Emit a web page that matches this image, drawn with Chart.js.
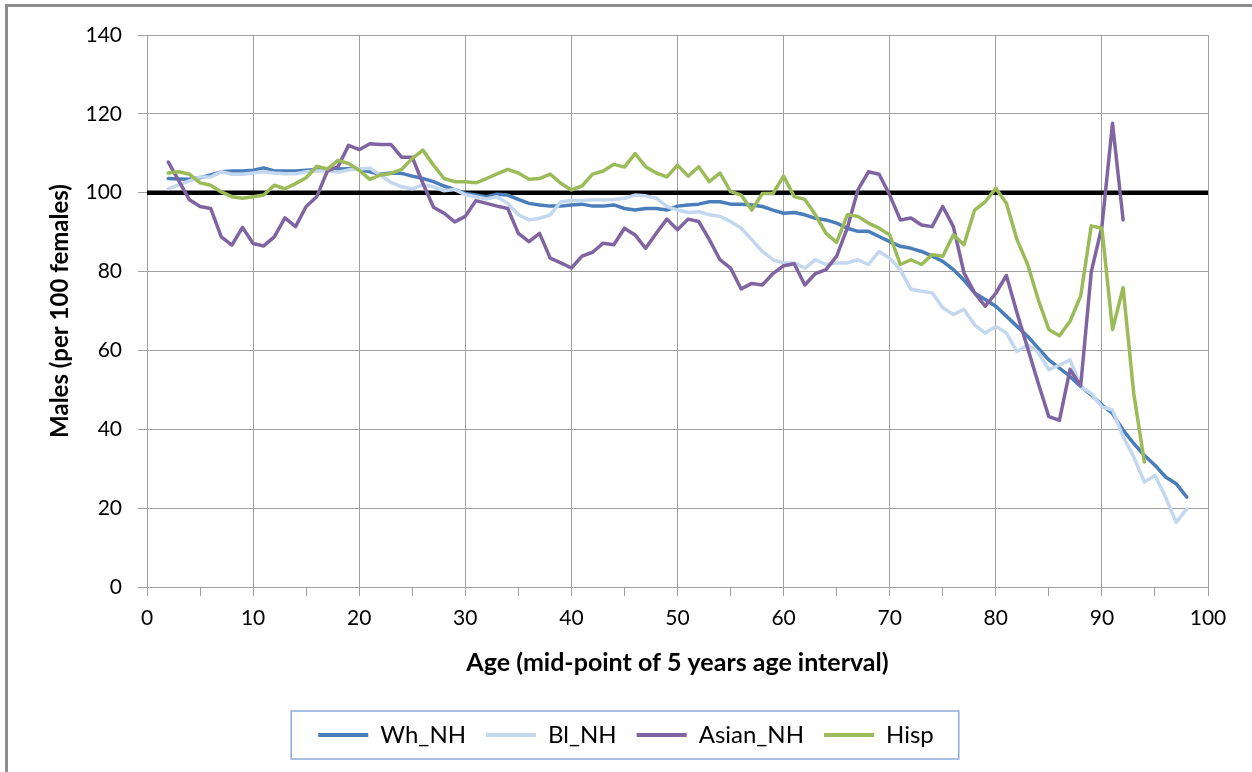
<!DOCTYPE html>
<html>
<head>
<meta charset="utf-8">
<script src="https://cdn.jsdelivr.net/npm/chart.js@4.4.1/dist/chart.umd.min.js"></script>
<style>
  html, body { margin: 0; padding: 0; background: #fff; }
  canvas { display: block; }
</style>
</head>
<body>
<canvas id="theChart" width="1252" height="772"></canvas>
<script>
let chart = document.getElementById("theChart").getContext("2d");

const ages = [2,3,4,5,6,7,8,9,10,11,12,13,14,15,16,17,18,19,20,21,22,23,24,25,26,27,28,29,30,
  31,32,33,34,35,36,37,38,39,40,41,42,43,44,45,46,47,48,49,50,51,52,53,54,55,56,57,58,59,60,
  61,62,63,64,65,66,67,68,69,70,71,72,73,74,75,76,77,78,79,80,81,82,83,84,85,86,87,88,89,90,
  91,92,93,94,95,96,97,98];

const whNH = [103.6,103.5,103.4,103.8,104.5,105.3,105.5,105.5,105.7,106.3,105.5,105.5,105.5,105.7,105.9,106.1,106.0,106.1,105.9,105.3,
  104.7,105.0,104.9,104.2,103.6,102.8,101.7,100.8,99.8,99.4,99.0,99.6,99.4,98.3,97.3,96.9,96.6,96.6,96.9,97.1,
  96.6,96.6,96.9,96.0,95.6,96.0,96.0,95.6,96.6,96.9,97.1,97.7,97.7,97.1,97.1,96.9,96.5,95.6,94.8,95.0,
  94.4,93.5,93.1,92.3,91.0,90.2,90.2,88.9,87.6,86.4,85.9,85.1,83.9,82.6,80.5,77.8,74.6,72.9,71.2,68.7,
  66.1,63.6,60.6,57.6,55.5,53.4,50.8,48.7,46.2,44.0,39.8,36.4,33.4,30.9,27.9,26.2,22.8];

const blNH = [101.0,102.0,103.0,104.0,104.0,105.3,104.7,104.7,105.0,105.3,105.0,104.8,104.8,105.3,105.5,105.6,105.2,105.8,106.0,106.2,
  104.5,102.6,101.5,101.0,102.0,101.5,100.5,100.8,99.5,99.0,98.4,99.0,97.3,94.4,93.1,93.5,94.4,97.7,98.0,98.0,
  98.2,98.2,98.3,98.6,99.4,99.2,98.6,96.5,95.6,95.0,95.2,94.4,94.0,92.7,91.0,88.1,85.1,83.0,82.2,82.2,
  80.9,83.0,81.8,82.2,82.2,83.0,81.8,85.1,83.4,80.5,75.5,75.0,74.6,70.8,69.1,70.4,66.5,64.4,66.1,64.4,
  59.7,61.4,59.5,55.1,56.3,57.6,50.8,49.1,45.7,44.9,38.1,33.0,26.6,28.3,22.8,16.4,19.8];

const asianNH = [107.8,103.0,98.2,96.5,96.0,88.8,86.7,91.2,87.1,86.5,88.8,93.6,91.4,96.5,99.0,105.5,106.6,112.0,110.9,112.4,
  112.2,112.2,109.0,109.0,102.4,96.3,94.8,92.6,94.0,98.0,97.3,96.6,96.0,89.7,87.6,89.7,83.4,82.2,80.9,83.9,
  84.9,87.2,86.8,91.0,89.3,85.9,89.7,93.3,90.6,93.3,92.7,88.1,83.0,80.9,75.6,77.0,76.6,79.5,81.5,82.0,
  76.6,79.5,80.5,83.9,91.0,100.7,105.3,104.7,99.4,93.1,93.6,91.8,91.4,96.5,91.4,79.7,74.6,71.2,74.5,79.0,
  69.5,60.6,51.7,43.2,42.3,55.2,51.0,80.0,91.4,117.6,93.1];

const hisp = [105.0,105.3,104.7,102.5,101.9,100.2,99.0,98.6,99.0,99.4,101.9,101.0,102.3,103.8,106.7,106.0,108.2,107.4,105.7,103.4,
  104.5,104.9,105.9,108.7,110.8,107.0,103.6,102.8,102.8,102.5,103.6,104.8,105.9,105.0,103.4,103.6,104.7,102.4,100.7,101.7,
  104.7,105.5,107.2,106.5,109.9,106.6,105.0,104.0,107.0,104.2,106.6,102.8,105.0,100.3,99.4,95.6,99.8,99.8,104.2,99.0,
  98.3,94.4,89.7,87.4,94.4,94.0,92.3,91.0,89.3,81.8,83.0,81.8,84.3,83.9,89.3,86.8,95.6,97.7,101.1,97.3,
  88.1,81.8,72.9,65.3,63.7,67.4,73.8,91.6,91.0,65.3,75.9,49.1,31.7];

const parityX = [0, 100];
const parityY = [100, 100];

const yTicks = [0, 20, 40, 60, 80, 100, 120, 140];

function toPoints(xs, ys) {
  return ys.map((y, i) => ({ x: xs[i], y: y }));
}

const fontName = "Lato, 'Open Sans', sans-serif";
const gridGray = "#a0a0a0";

// outer frame and legend frame, like the spreadsheet export
const framePlugin = {
  id: "frames",
  beforeDraw(c) {
    const ctx = c.ctx;
    ctx.save();
    ctx.fillStyle = "#fff";
    ctx.fillRect(0, 0, c.width, c.height);
    ctx.strokeStyle = "#8c8c8c";
    ctx.lineWidth = 3;
    ctx.strokeRect(6.5, 5.5, c.width + 20, c.height + 20);
    ctx.restore();
  },
  afterDraw(c) {
    const boxes = c.legend.legendHitBoxes;
    if (!boxes || !boxes.length) return;
    let left = Math.min(...boxes.map(b => b.left));
    let right = Math.max(...boxes.map(b => b.left + b.width));
    let top = Math.min(...boxes.map(b => b.top));
    let bottom = Math.max(...boxes.map(b => b.top + b.height));
    const ctx = c.ctx;
    ctx.save();
    ctx.strokeStyle = "#8eaadb";
    ctx.lineWidth = 1.5;
    ctx.strokeRect(left - 27, top - 12, right - left + 52, bottom - top + 24);
    ctx.restore();
  }
};

let currentChart = new Chart(chart, {
  type: "scatter",
  data: {
    datasets: [
      {
        label: "",
        data: toPoints(parityX, parityY),
        borderColor: "#000",
        backgroundColor: "#000",
        borderWidth: 4.5,
        showLine: true,
        pointRadius: 0,
        order: 5
      },
      {
        label: "Wh_NH",
        data: toPoints(ages, whNH),
        borderColor: "#4a7ebb",
        backgroundColor: "#4a7ebb",
        borderWidth: 3.5,
        showLine: true,
        pointRadius: 0,
        order: 4
      },
      {
        label: "Bl_NH",
        data: toPoints(ages, blNH),
        borderColor: "#c3d7ef",
        backgroundColor: "#c3d7ef",
        borderWidth: 3.5,
        showLine: true,
        pointRadius: 0,
        order: 3
      },
      {
        label: "Asian_NH",
        data: toPoints(ages, asianNH),
        borderColor: "#8064a2",
        backgroundColor: "#8064a2",
        borderWidth: 3.5,
        showLine: true,
        pointRadius: 0,
        order: 2
      },
      {
        label: "Hisp",
        data: toPoints(ages, hisp),
        borderColor: "#9bbb59",
        backgroundColor: "#9bbb59",
        borderWidth: 3.5,
        showLine: true,
        pointRadius: 0,
        order: 1
      }
    ]
  },
  options: {
    responsive: false,
    animation: false,
    devicePixelRatio: 1,
    layout: {
      padding: { left: 0, top: 35, right: 0, bottom: 15 }
    },
    elements: { line: { tension: 0, borderJoinStyle: "round", borderCapStyle: "round" } },
    plugins: {
      tooltip: { enabled: false },
      legend: {
        position: "bottom",
        labels: {
          font: { family: fontName, size: 24 },
          color: "#000",
          boxWidth: 50,
          boxHeight: 4,
          padding: 20,
          generateLabels: (c) => c.data.datasets
            .map((ds, i) => ({
              text: ds.label,
              fillStyle: ds.borderColor,
              strokeStyle: ds.borderColor,
              lineWidth: 0,
              hidden: false,
              datasetIndex: i,
              fontColor: "#000"
            }))
            .filter(l => l.text)
        }
      }
    },
    scales: {
      x: {
        type: "linear",
        min: 0,
        max: 100,
        afterFit: (s) => { s.height = 116; },
        ticks: {
          stepSize: 5,
          padding: 10,
          maxRotation: 0,
          autoSkip: false,
          color: "#000",
          font: { family: fontName, size: 21 },
          callback: (v) => (v % 10 === 0 ? v : "")
        },
        grid: {
          color: (ctx) => (ctx.tick && ctx.tick.value % 10 === 0 ? gridGray : "rgba(0,0,0,0)"),
          tickColor: gridGray,
          tickLength: 9,
          lineWidth: 1
        },
        border: { color: gridGray, width: 1 },
        title: {
          display: true,
          text: "Age (mid-point of 5 years age interval)",
          color: "#000",
          font: { family: fontName, size: 25, weight: "bold" },
          padding: { top: 0, bottom: 25 }
        }
      },
      y: {
        type: "linear",
        min: 0,
        max: 140,
        afterFit: (s) => { s.width = 147; },
        afterBuildTicks: (s) => { s.ticks = yTicks.map(v => ({ value: v })); },
        ticks: {
          padding: 16,
          color: "#000",
          font: { family: fontName, size: 21 }
        },
        grid: {
          color: gridGray,
          tickColor: gridGray,
          tickLength: 9,
          lineWidth: 1
        },
        border: { color: gridGray, width: 1 },
        title: {
          display: true,
          text: "Males (per 100 females)",
          color: "#000",
          font: { family: fontName, size: 24, weight: "bold" },
          padding: { top: 46, bottom: 0 }
        }
      },
      // empty right-hand strip that keeps the plot off the right edge
      yRight: {
        type: "linear",
        position: "right",
        display: true,
        min: 0,
        max: 140,
        afterFit: (s) => { s.width = 44; },
        ticks: { display: false },
        grid: { display: false, drawOnChartArea: false },
        border: { display: false }
      }
    }
  },
  plugins: [framePlugin]
});
</script>
</body>
</html>
